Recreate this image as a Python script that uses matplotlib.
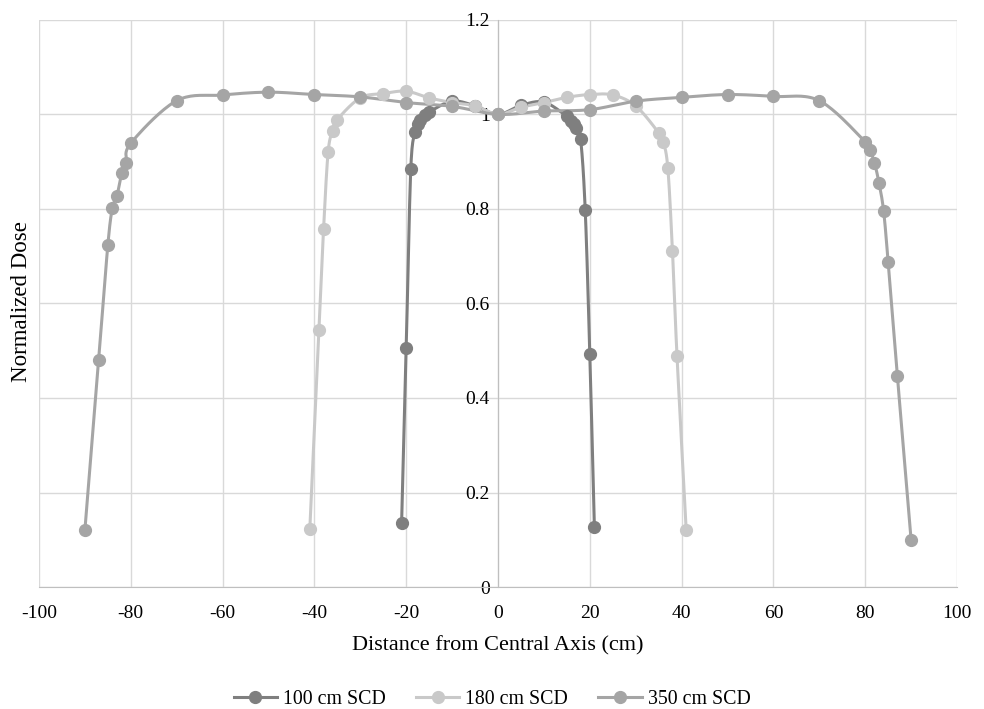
import numpy as np
import matplotlib.pyplot as plt

# Beam profiles at three source-to-chamber distances
x100 = [-21, -20, -19, -18, -17.5, -17, -16, -15, -10, -5, 0, 5, 10,
        15, 16, 16.5, 17, 18, 19, 20, 21]
y100 = [0.135, 0.505, 0.885, 0.963, 0.980, 0.989, 0.998, 1.005, 1.028, 1.018, 1.0,
        1.019, 1.026, 0.996, 0.987, 0.980, 0.972, 0.947, 0.798, 0.493, 0.126]

x180 = [-41, -39, -38, -37, -36, -35, -30, -25, -20, -15, -10, -5, 0,
        5, 10, 15, 20, 25, 30, 35, 36, 37, 38, 39, 41]
y180 = [0.122, 0.543, 0.758, 0.921, 0.965, 0.989, 1.035, 1.044, 1.049, 1.035, 1.025, 1.018, 1.0,
        1.015, 1.025, 1.036, 1.042, 1.041, 1.018, 0.961, 0.942, 0.886, 0.712, 0.488, 0.120]

x350 = [-90, -87, -85, -84, -83, -82, -81, -80, -70, -60, -50, -40, -30, -20, -10, 0,
        10, 20, 30, 40, 50, 60, 70, 80, 81, 82, 83, 84, 85, 87, 90]
y350 = [0.12, 0.48, 0.723, 0.802, 0.828, 0.875, 0.898, 0.939, 1.029, 1.041, 1.047, 1.042,
        1.037, 1.025, 1.017, 1.0, 1.007, 1.01, 1.028, 1.036, 1.042, 1.038, 1.029,
        0.942, 0.925, 0.898, 0.855, 0.796, 0.687, 0.447, 0.099]

series = [
    ("100 cm SCD", x100, y100, "#7f7f7f"),
    ("180 cm SCD", x180, y180, "#c9c9c9"),
    ("350 cm SCD", x350, y350, "#a5a5a5"),
]


def smooth(xs, ys, n=20, sx=4.6, sy=475.0):
    """Catmull-Rom curve through the points, computed in screen-like units."""
    p = np.column_stack([np.asarray(xs) * sx, np.asarray(ys) * sy])
    p = np.vstack([p[0], p, p[-1]])
    out = []
    t = np.linspace(0, 1, n, endpoint=False)[:, None]
    for i in range(1, len(p) - 2):
        p0, p1, p2, p3 = p[i - 1], p[i], p[i + 1], p[i + 2]
        c1 = p1 + (p2 - p0) / 6
        c2 = p2 - (p3 - p1) / 6
        seg = ((1 - t) ** 3 * p1 + 3 * (1 - t) ** 2 * t * c1
               + 3 * (1 - t) * t ** 2 * c2 + t ** 3 * p2)
        out.append(seg)
    out.append(p[-2][None, :])
    out = np.vstack(out)
    return out[:, 0] / sx, out[:, 1] / sy


plt.rcParams["font.family"] = ["Liberation Serif", "DejaVu Serif"]
plt.rcParams["axes.unicode_minus"] = False

fig = plt.figure(figsize=(9.84, 7.09), dpi=100)
ax = fig.add_axes([0.0396, 0.172, 0.933, 0.8])

for label, xs, ys, col in series:
    sxs, sys_ = smooth(xs, ys)
    ax.plot(sxs, sys_, color=col, lw=2.2, zorder=3)
    ax.plot(xs, ys, "o", color=col, ms=8.5, zorder=4)
    ax.plot([], [], "-o", color=col, lw=2.2, ms=8.5, label=label)

ax.set_xlim(-100, 100)
ax.set_ylim(0, 1.2)
ax.set_xticks(np.arange(-100, 101, 20))
ax.set_yticks(np.arange(0, 1.21, 0.2))
ax.set_yticklabels(["0", "0.2", "0.4", "0.6", "0.8", "1", "1.2"])
ax.grid(True, color="#d9d9d9", lw=1.0, zorder=0)
ax.set_axisbelow(True)

for s in ("top", "right"):
    ax.spines[s].set_visible(False)
ax.spines["left"].set_position(("data", 0))
ax.spines["left"].set_color("#bfbfbf")
ax.spines["bottom"].set_color("#bfbfbf")
ax.spines["left"].set_zorder(1)
ax.tick_params(length=0, labelsize=14, colors="black")
ax.tick_params(axis="x", pad=13)
ax.tick_params(axis="y", pad=6)

ax.set_xlabel("Distance from Central Axis (cm)", fontsize=16, labelpad=10)
fig.text(0.022, 0.574, "Normalized Dose", rotation=90, fontsize=16.5,
         ha="center", va="center")

fig.legend(loc="center", bbox_to_anchor=(0.5, 0.014), ncol=3,
           frameon=False, fontsize=14.3, handlelength=2.2, columnspacing=1.5,
           handletextpad=0.3)

fig.savefig("out.png", dpi=100)
